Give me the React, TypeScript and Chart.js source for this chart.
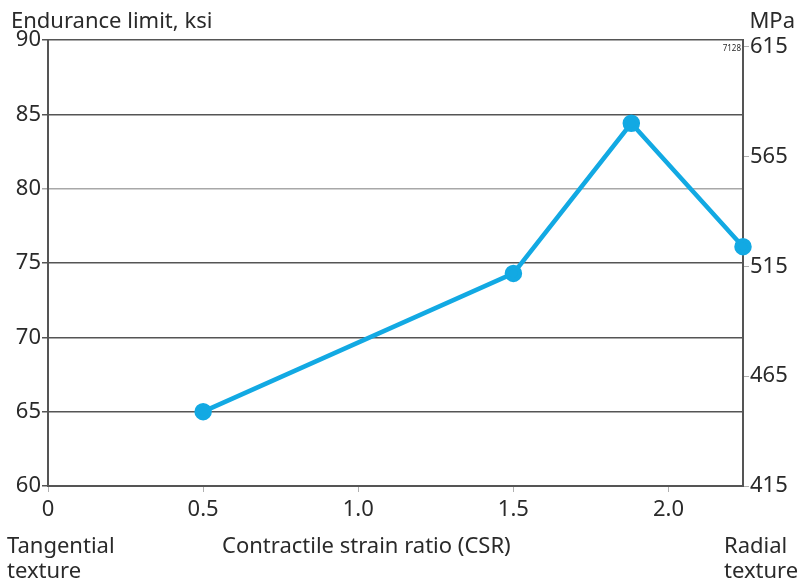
import React, { useEffect, useRef } from "react";
import { Chart, registerables } from "chart.js";

Chart.register(...registerables);

const csr = [0.5, 1.5, 1.88, 2.24];
const enduranceKsi = [65, 74.3, 84.4, 76.1];
const ksiTicks = [60, 65, 70, 75, 80, 85, 90];
const mpaTicks = [415, 465, 515, 565, 615];
const csrTicks = [0, 0.5, 1.0, 1.5, 2.0];

const FONT = "'Noto Sans', sans-serif";
const TEXT = "#2a2a2a";

const labelsPlugin = {
  id: "labels",
  afterDraw(chart: any) {
    const ctx = chart.ctx;
    ctx.save();
    ctx.fillStyle = TEXT;
    ctx.textBaseline = "middle";
    ctx.font = `22px ${FONT}`;
    ctx.textAlign = "left";
    ctx.fillText("Endurance limit, ksi", 11, 22);
    ctx.fillText("Tangential", 7, 547);
    ctx.fillText("texture", 7, 572);
    ctx.fillText("Contractile strain ratio (CSR)", 222, 547);
    ctx.fillText("Radial", 724, 547);
    ctx.fillText("texture", 724, 572);
    ctx.textAlign = "right";
    ctx.fillText("MPa", 795, 22);
    ctx.font = `8px ${FONT}`;
    ctx.fillText("7128", 741, 49);
    ctx.restore();
  },
};

export default function App() {
  const ref = useRef<HTMLCanvasElement>(null);
  useEffect(() => {
    if (!ref.current) return;
    const chart = new Chart(ref.current, {
      type: "line",
      data: {
        datasets: [
          {
            data: csr.map((x, i) => ({ x, y: enduranceKsi[i] })),
            borderColor: "#12a9e3",
            backgroundColor: "#12a9e3",
            borderWidth: 4.5,
            pointRadius: 6.5,
            pointHoverRadius: 6.5,
            clip: false as any,
            yAxisID: "y",
          },
        ],
      },
      options: {
        animation: false,
        responsive: false,
        maintainAspectRatio: false,
        layout: { padding: { top: 40, left: 0, right: 0, bottom: 0 } },
        plugins: {
          legend: { display: false },
          tooltip: { enabled: false },
        },
        scales: {
          x: {
            type: "linear",
            min: 0,
            max: 2.24,
            afterBuildTicks: (axis: any) => {
              axis.ticks = csrTicks.map((v) => ({ value: v }));
            },
            afterFit: (axis: any) => {
              axis.height = 99;
            },
            ticks: {
              color: TEXT,
              font: { family: FONT, size: 22 },
              padding: 5,
              callback: (v: any) => (v === 0 ? "0" : Number(v).toFixed(1)),
              maxRotation: 0,
              autoSkip: false,
            },
            grid: {
              drawOnChartArea: false,
              drawTicks: true,
              tickLength: 6,
              color: "#b0b0b0",
            },
            border: { display: true, color: "#555", width: 2 },
          },
          y: {
            type: "linear",
            position: "left",
            min: 60,
            max: 90,
            afterBuildTicks: (axis: any) => {
              axis.ticks = ksiTicks.map((v) => ({ value: v }));
            },
            afterFit: (axis: any) => {
              axis.width = 48;
            },
            ticks: {
              color: TEXT,
              font: { family: FONT, size: 22 },
              padding: 1,
            },
            grid: {
              drawTicks: true,
              tickLength: 6,
              lineWidth: 1.5,
              color: (c: any) =>
                c.tick && c.tick.value === 80 ? "#a8a8a8" : "#555",
            },
            border: { display: true, color: "#555", width: 2 },
          },
          y2: {
            type: "linear",
            position: "right",
            min: 415,
            max: 618,
            afterBuildTicks: (axis: any) => {
              axis.ticks = mpaTicks.map((v) => ({ value: v }));
            },
            afterFit: (axis: any) => {
              axis.width = 57;
            },
            ticks: {
              color: TEXT,
              font: { family: FONT, size: 22 },
              padding: 1,
            },
            grid: {
              drawOnChartArea: false,
              drawTicks: true,
              tickLength: 6,
              color: "#b0b0b0",
            },
            border: { display: true, color: "#555", width: 2 },
          },
        },
      },
      plugins: [labelsPlugin],
    });
    return () => chart.destroy();
  }, []);
  return (
    <div style={{ position: "fixed", left: 0, top: 0, width: 800, height: 585, background: "#fff" }}>
      <canvas ref={ref} width={800} height={585} style={{ display: "block" }} />
    </div>
  );
}
